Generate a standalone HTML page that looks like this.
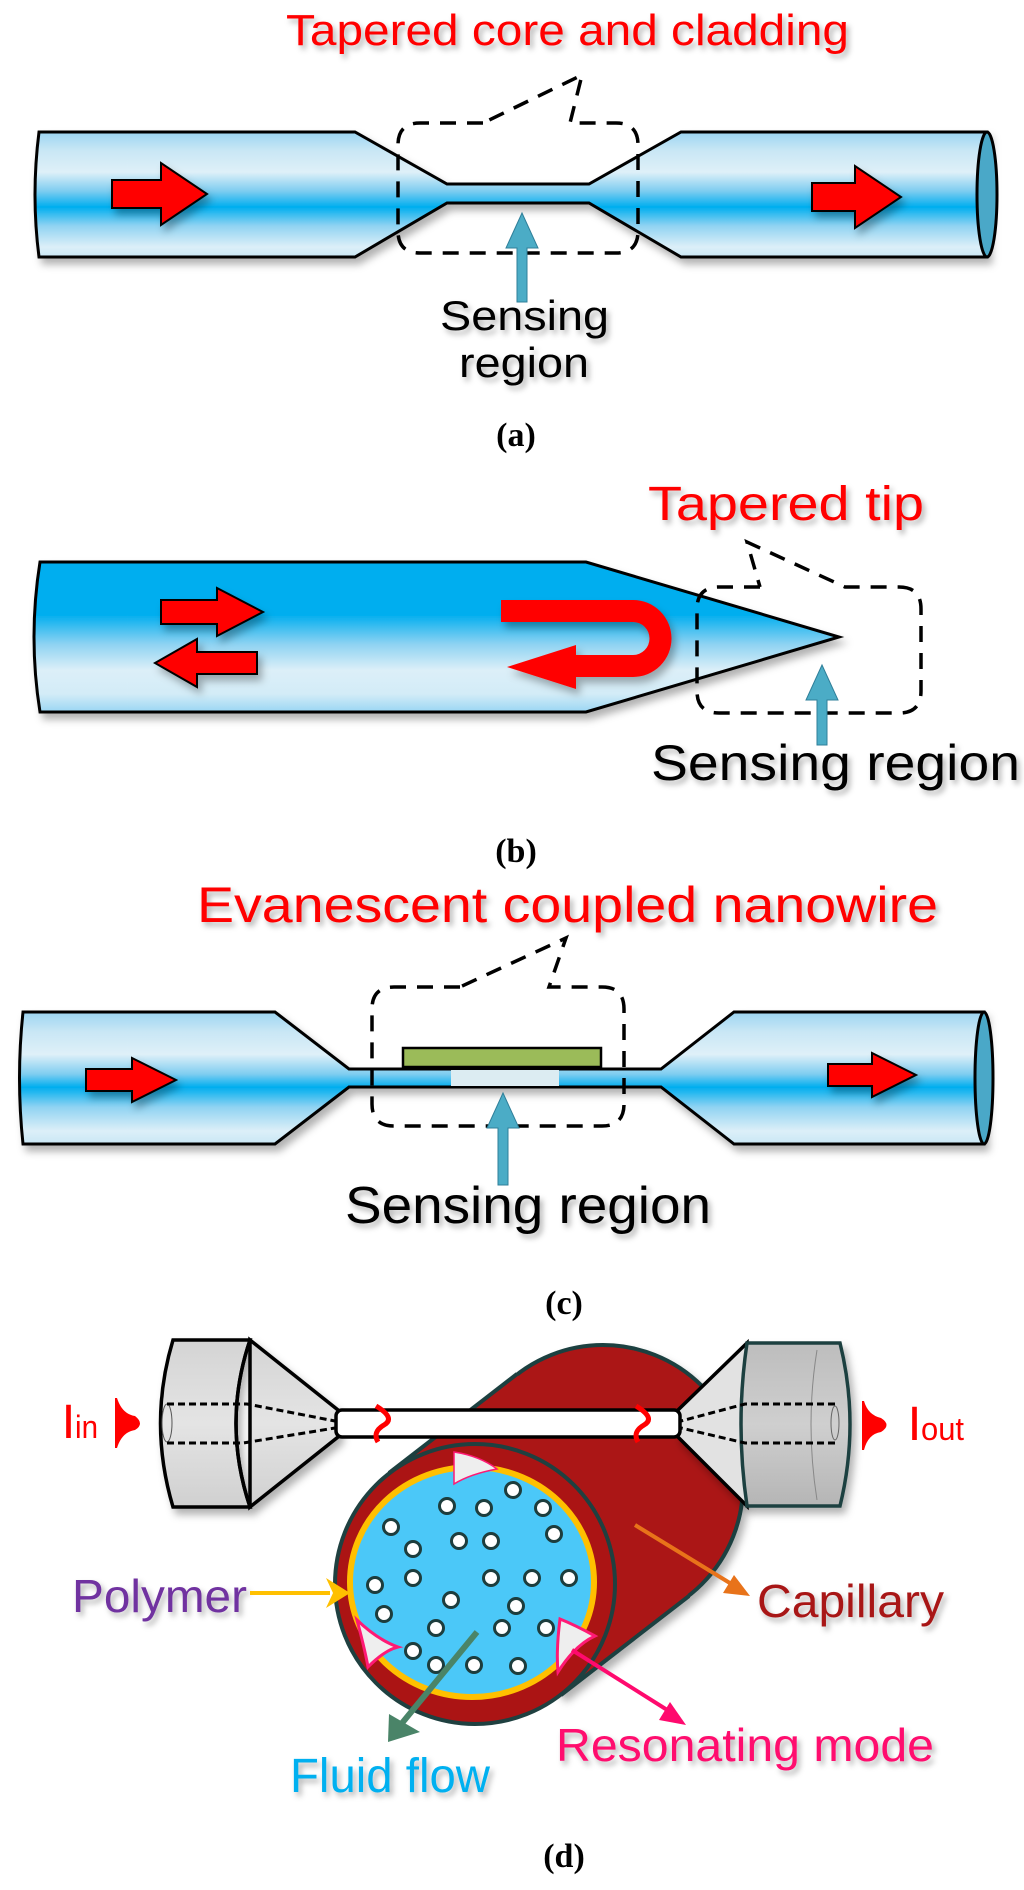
<!DOCTYPE html>
<html><head><meta charset="utf-8"><style>html,body{margin:0;padding:0;background:#fff}svg{display:block}</style></head>
<body>
<svg width="1024" height="1890" viewBox="0 0 1024 1890" xmlns="http://www.w3.org/2000/svg" font-family="'Liberation Sans', sans-serif">
<defs>
<filter id="sh" x="-10%" y="-10%" width="130%" height="140%"><feDropShadow dx="4" dy="6" stdDeviation="4" flood-color="#000" flood-opacity="0.3"/></filter>
<filter id="ts" x="-10%" y="-20%" width="130%" height="160%"><feDropShadow dx="3" dy="4" stdDeviation="3" flood-color="#000" flood-opacity="0.3"/></filter>
<linearGradient id="ga" x1="0" y1="132" x2="0" y2="257" gradientUnits="userSpaceOnUse">
<stop offset="0" stop-color="#9cd5f2"/><stop offset="0.15" stop-color="#c9e7f5"/><stop offset="0.32" stop-color="#dff0f8"/><stop offset="0.47" stop-color="#7fcdf0"/><stop offset="0.6" stop-color="#00aeef"/><stop offset="0.75" stop-color="#8fd3f2"/><stop offset="0.92" stop-color="#dceff8"/><stop offset="1" stop-color="#c9e7f5"/></linearGradient>
<linearGradient id="gb" x1="0" y1="562" x2="0" y2="712" gradientUnits="userSpaceOnUse">
<stop offset="0" stop-color="#00aeef"/><stop offset="0.35" stop-color="#00aeef"/><stop offset="0.55" stop-color="#8fd3f2"/><stop offset="0.72" stop-color="#dceff8"/><stop offset="0.88" stop-color="#d3ecf7"/><stop offset="1" stop-color="#9ad6f3"/></linearGradient>
<linearGradient id="gc" x1="0" y1="1012" x2="0" y2="1144" gradientUnits="userSpaceOnUse">
<stop offset="0" stop-color="#9cd5f2"/><stop offset="0.15" stop-color="#c9e7f5"/><stop offset="0.32" stop-color="#dff0f8"/><stop offset="0.47" stop-color="#7fcdf0"/><stop offset="0.57" stop-color="#00aeef"/><stop offset="0.72" stop-color="#8fd3f2"/><stop offset="0.9" stop-color="#dceff8"/><stop offset="1" stop-color="#c9e7f5"/></linearGradient>
<linearGradient id="gg" x1="0" y1="0" x2="0" y2="1"><stop offset="0" stop-color="#d4d4d4"/><stop offset="0.5" stop-color="#e4e4e4"/><stop offset="1" stop-color="#d0d0d0"/></linearGradient>
<linearGradient id="gg2" x1="0" y1="0" x2="0" y2="1"><stop offset="0" stop-color="#bdbdbd"/><stop offset="0.5" stop-color="#cfcfcf"/><stop offset="1" stop-color="#b5b5b5"/></linearGradient>
</defs>

<!-- ===== Panel (a) ===== -->
<text x="286" y="45" font-size="44" fill="#ff0000" textLength="563" lengthAdjust="spacingAndGlyphs" filter="url(#ts)">Tapered core and cladding</text>
<path d="M39,132 L355,132 L447,184 L589,184 L681,132 L987,132 L987,257 L681,257 L589,203 L447,203 L355,257 L39,257 Q31,195 39,132 Z" fill="url(#ga)" stroke="#000" stroke-width="3" filter="url(#sh)"/>
<ellipse cx="987" cy="194.5" rx="10" ry="62.5" fill="#4aa8c8" stroke="#000" stroke-width="3"/>
<polygon points="112,180 161,180 161,163 207,194 161,225 161,208 112,208" fill="#ff0000" stroke="#000" stroke-width="2" filter="url(#sh)"/>
<polygon points="812,183 855,183 855,166 901,197 855,228 855,211 812,211" fill="#ff0000" stroke="#000" stroke-width="2" filter="url(#sh)"/>
<path d="M483,123 L420,123 Q398,123 398,145 L398,231 Q398,253 420,253 L616,253 Q638,253 638,231 L638,145 Q638,123 616,123 L570,123 L582,75 L483,123" fill="none" stroke="#000" stroke-width="3.5" stroke-dasharray="16 11"/>
<polygon points="517,302 517,248 506,248 522,213 538,248 527,248 527,302" fill="#4bacc6" stroke="#2f7f99" stroke-width="1"/>
<text x="440" y="330" font-size="42" fill="#000" textLength="169" lengthAdjust="spacingAndGlyphs" filter="url(#ts)">Sensing</text>
<text x="459" y="377" font-size="42" fill="#000" textLength="130" lengthAdjust="spacingAndGlyphs" filter="url(#ts)">region</text>
<text x="516" y="446" font-size="34" font-weight="bold" font-family="'Liberation Serif', serif" text-anchor="middle">(a)</text>

<!-- ===== Panel (b) ===== -->
<text x="648" y="520" font-size="48" fill="#ff0000" textLength="276" lengthAdjust="spacingAndGlyphs" filter="url(#ts)">Tapered tip</text>
<path d="M40,562 L586,562 L839,637 L586,712 L40,712 Q28,637 40,562 Z" fill="url(#gb)" stroke="#000" stroke-width="3" filter="url(#sh)"/>
<polygon points="161,600 217,600 217,588 263,612 217,636 217,624 161,624" fill="#ff0000" stroke="#000" stroke-width="2" filter="url(#sh)"/>
<polygon points="257,652 197,652 197,639 155,663 197,687 197,674 257,674" fill="#ff0000" stroke="#000" stroke-width="2" filter="url(#sh)"/>
<path d="M501,600 L633,600 A38.5,38.5 0 0 1 633,677 L576,677 L576,689 L507,667 L576,645 L576,655 L633,655 A16.5,16.5 0 0 0 633,622 L501,622 Z" fill="#ff0000" filter="url(#sh)"/>
<path d="M760,587 L719,587 Q697,587 697,609 L697,691 Q697,713 719,713 L899,713 Q921,713 921,691 L921,609 Q921,587 899,587 L845,587 L747,542 L760,587" fill="none" stroke="#000" stroke-width="3.5" stroke-dasharray="16 11"/>
<polygon points="817,745 817,700 806,700 822,665 838,700 827,700 827,745" fill="#4bacc6" stroke="#2f7f99" stroke-width="1"/>
<text x="651" y="780" font-size="50" fill="#000" textLength="369" lengthAdjust="spacingAndGlyphs" filter="url(#ts)">Sensing region</text>
<text x="516" y="862" font-size="34" font-weight="bold" font-family="'Liberation Serif', serif" text-anchor="middle">(b)</text>

<!-- ===== Panel (c) ===== -->
<text x="197" y="922" font-size="50" fill="#ff0000" textLength="741" lengthAdjust="spacingAndGlyphs" filter="url(#ts)">Evanescent coupled nanowire</text>
<path d="M23,1012 L275,1012 L349,1069 L661,1069 L734,1012 L984,1012 L984,1144 L734,1144 L661,1087 L349,1087 L275,1144 L23,1144 Q16,1078 23,1012 Z" fill="url(#gc)" stroke="#000" stroke-width="3" filter="url(#sh)"/>
<rect x="451" y="1070" width="108" height="16" fill="#dcecf2"/>
<ellipse cx="984" cy="1078" rx="9" ry="66" fill="#4aa8c8" stroke="#000" stroke-width="3"/>
<rect x="403" y="1048" width="198" height="19" fill="#9bbb59" stroke="#000" stroke-width="2.5"/>
<polygon points="86,1069 132,1069 132,1058 176,1080 132,1102 132,1091 86,1091" fill="#ff0000" stroke="#000" stroke-width="2" filter="url(#sh)"/>
<polygon points="828,1064 872,1064 872,1053 916,1075 872,1097 872,1086 828,1086" fill="#ff0000" stroke="#000" stroke-width="2" filter="url(#sh)"/>
<path d="M460,987 L394,987 Q372,987 372,1009 L372,1104 Q372,1126 394,1126 L602,1126 Q624,1126 624,1104 L624,1009 Q624,987 602,987 L549,987 L566,938 L460,987" fill="none" stroke="#000" stroke-width="3.5" stroke-dasharray="16 11"/>
<polygon points="498,1185 498,1128 487,1128 503,1093 519,1128 508,1128 508,1185" fill="#4bacc6" stroke="#2f7f99" stroke-width="1"/>
<text x="345" y="1223" font-size="52" fill="#000" textLength="366" lengthAdjust="spacingAndGlyphs" filter="url(#ts)">Sensing region</text>
<text x="564" y="1314" font-size="34" font-weight="bold" font-family="'Liberation Serif', serif" text-anchor="middle">(c)</text>

<!-- ===== Panel (d) ===== -->
<g filter="url(#sh)">
<circle cx="603" cy="1485" r="140" fill="#ab1414" stroke="#1f4040" stroke-width="4"/>
<polygon points="561,1695 689,1596 517,1374 389,1473" fill="#ab1414"/>
<path d="M689,1596 L561,1695" stroke="#1f4040" stroke-width="4"/>
<path d="M517,1374 L389,1473" stroke="#1f4040" stroke-width="4"/>
</g>
<ellipse cx="475" cy="1584" rx="140" ry="140" fill="#ab1414" stroke="#1f4040" stroke-width="4"/>
<ellipse cx="472" cy="1582" rx="122" ry="115" fill="#4bc8f8" stroke="#ffc000" stroke-width="6"/>
<g fill="#fff" stroke="#1d3d3d" stroke-width="3">
<circle cx="513" cy="1490" r="7.5"/><circle cx="447" cy="1506" r="7.5"/><circle cx="484" cy="1508" r="7.5"/><circle cx="543" cy="1508" r="7.5"/>
<circle cx="391" cy="1527" r="7.5"/><circle cx="554" cy="1534" r="7.5"/><circle cx="413" cy="1549" r="7.5"/><circle cx="459" cy="1541" r="7.5"/>
<circle cx="491" cy="1541" r="7.5"/><circle cx="375" cy="1585" r="7.5"/><circle cx="413" cy="1578" r="7.5"/><circle cx="491" cy="1578" r="7.5"/>
<circle cx="532" cy="1578" r="7.5"/><circle cx="569" cy="1578" r="7.5"/><circle cx="451" cy="1600" r="7.5"/><circle cx="516" cy="1606" r="7.5"/>
<circle cx="384" cy="1614" r="7.5"/><circle cx="436" cy="1628" r="7.5"/><circle cx="502" cy="1628" r="7.5"/><circle cx="546" cy="1628" r="7.5"/>
<circle cx="413" cy="1651" r="7.5"/><circle cx="436" cy="1665" r="7.5"/><circle cx="474" cy="1665" r="7.5"/><circle cx="518" cy="1666" r="7.5"/>
</g>
<path d="M454,1452 L454,1484 Q470,1474 497,1469 Q480,1456 454,1452 Z" fill="#eeeeee" stroke="#ff1a75" stroke-width="1.5"/>
<path d="M357,1620 Q365,1650 368,1667 Q385,1650 398,1647 Q378,1640 357,1620 Z" fill="#eeeeee" stroke="#ff1a75" stroke-width="3"/>
<path d="M595,1636 Q575,1625 560,1619 Q556,1650 558,1672 Q575,1645 595,1636 Z" fill="#eeeeee" stroke="#ff1a75" stroke-width="3"/>

<g filter="url(#sh)">
<path d="M250,1340 L338,1410 L338,1437 L250,1507 Z" fill="url(#gg)" stroke="#000" stroke-width="3.5"/>
<path d="M173,1340 L250,1340 Q222,1423 250,1507 L173,1507 Q148,1423 173,1340 Z" fill="url(#gg)" stroke="#000" stroke-width="3.5"/>
<path d="M250,1340 Q222,1423 250,1507" fill="none" stroke="#000" stroke-width="3.5"/>
</g>
<ellipse cx="167" cy="1423" rx="5" ry="19" fill="none" stroke="#555" stroke-width="1"/>
<path d="M167,1404 L247,1404 L335,1421 M167,1443 L243,1443 L335,1428" fill="none" stroke="#000" stroke-width="3" stroke-dasharray="7 4"/>
<g filter="url(#sh)">
<path d="M747,1343 L678,1410 L678,1437 L747,1506 Z" fill="#e2e2e2" stroke="#000" stroke-width="3.5"/>
<path d="M747,1343 L840,1343 Q860,1424 840,1506 L747,1506 Q735,1424 747,1343 Z" fill="url(#gg2)" stroke="#1f4040" stroke-width="3.5"/>
</g>
<path d="M817,1350 Q805,1424 817,1500" fill="none" stroke="#888" stroke-width="1"/>
<ellipse cx="835" cy="1423" rx="4" ry="17" fill="none" stroke="#666" stroke-width="1"/>
<path d="M835,1404 L745,1404 L681,1421 M835,1443 L745,1443 L681,1428" fill="none" stroke="#000" stroke-width="3" stroke-dasharray="7 4"/>
<rect x="336" y="1410" width="344" height="27" rx="6" fill="#fff" stroke="#000" stroke-width="3.5"/>
<path d="M376,1406 Q396,1418 384,1425 Q372,1432 378,1442" fill="none" stroke="#ff0000" stroke-width="5"/>
<path d="M636,1406 Q656,1418 644,1425 Q632,1432 638,1442" fill="none" stroke="#ff0000" stroke-width="5"/>
<text x="64" y="1438" font-size="48" font-weight="bold" fill="#ff0000" textLength="9" lengthAdjust="spacingAndGlyphs">I</text>
<text x="75" y="1438" font-size="32" fill="#ff0000" textLength="23" lengthAdjust="spacingAndGlyphs">in</text>
<path d="M115,1398 L115,1448 L117,1448 Q122,1432 135,1430 Q145,1424 135,1416 Q122,1414 117,1398 Z" fill="#ff0000"/>
<path d="M862,1401 L862,1450 L864,1450 Q868,1434 881,1432 Q892,1425 881,1418 Q868,1415 864,1401 Z" fill="#ff0000"/>
<text x="910" y="1440" font-size="48" font-weight="bold" fill="#ff0000" textLength="9" lengthAdjust="spacingAndGlyphs">I</text>
<text x="921" y="1440" font-size="32" fill="#ff0000" textLength="43" lengthAdjust="spacingAndGlyphs">out</text>
<text x="72" y="1612" font-size="46" fill="#7030a0" textLength="175" lengthAdjust="spacingAndGlyphs" filter="url(#ts)">Polymer</text>
<line x1="250" y1="1593" x2="330" y2="1593" stroke="#ffc000" stroke-width="4"/>
<polygon points="326,1578 350,1593 326,1608 333,1593" fill="#ffc000"/>
<text x="757" y="1617" font-size="46" fill="#a81818" textLength="187" lengthAdjust="spacingAndGlyphs" filter="url(#ts)">Capillary</text>
<line x1="635" y1="1525" x2="738" y2="1588" stroke="#e8731a" stroke-width="4"/>
<polygon points="750,1596 723,1593 734,1575" fill="#e8731a"/>
<text x="556" y="1761" font-size="46" fill="#ff0a6e" textLength="378" lengthAdjust="spacingAndGlyphs" filter="url(#ts)">Resonating mode</text>
<line x1="572" y1="1650" x2="672" y2="1713" stroke="#ff0a6e" stroke-width="4"/>
<polygon points="686,1725 659,1720 670,1702" fill="#ff0a6e"/>
<text x="290" y="1792" font-size="48" fill="#00b0f0" textLength="200" lengthAdjust="spacingAndGlyphs" filter="url(#ts)">Fluid flow</text>
<line x1="477" y1="1632" x2="398" y2="1728" stroke="#4a8468" stroke-width="6"/>
<polygon points="388,1742 389,1714 420,1732" fill="#4a8468"/>
<text x="564" y="1867" font-size="34" font-weight="bold" font-family="'Liberation Serif', serif" text-anchor="middle">(d)</text>
</svg>
</body></html>
